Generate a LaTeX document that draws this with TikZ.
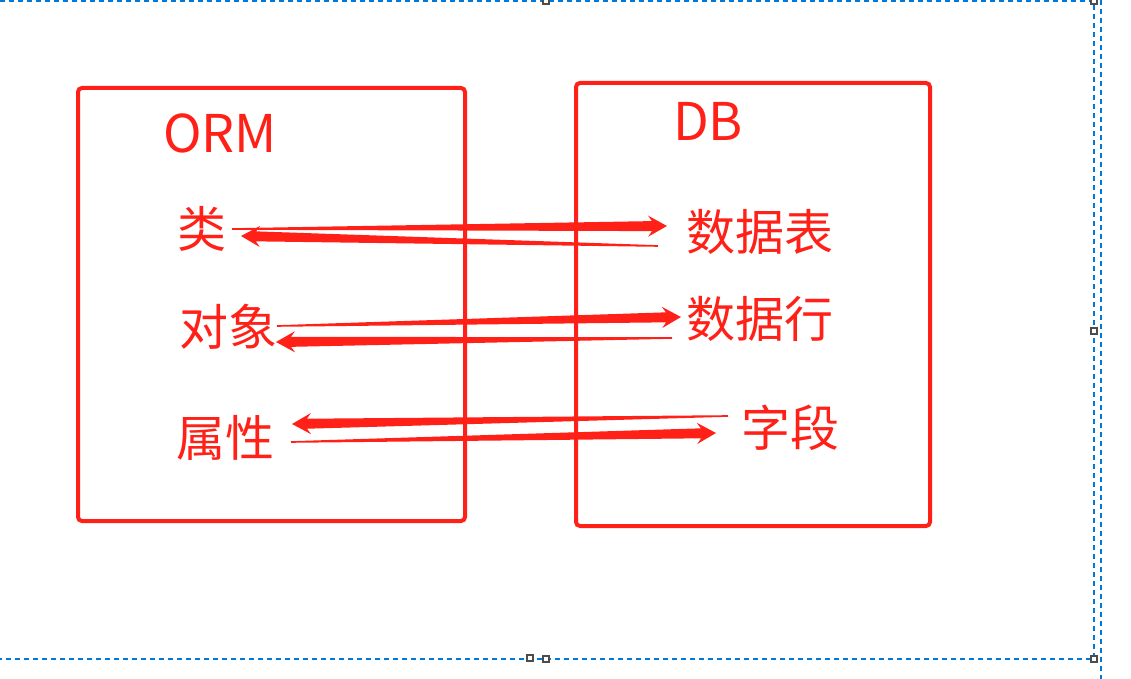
\documentclass[tikz,border=0pt]{standalone}
\usepackage{fontspec}
\usepackage{tikz}
\usetikzlibrary{calc}
\newfontfamily\cjk{Noto Sans CJK SC}
\definecolor{ormred}{RGB}{255,33,23}
\definecolor{selblue}{RGB}{0,120,215}
% tapered arrow: thin at #1, head at #2
\newcommand{\flow}[2]{\fill[ormred] ($(#1)!0.4pt!90:(#2)$) -- ($(#2)!7.5pt!(#1)!2.5pt!90:(#2)$) -- ($(#2)!9.5pt!(#1)!5.3pt!90:(#2)$) -- (#2) -- ($(#2)!9.5pt!(#1)!5.3pt!-90:(#2)$) -- ($(#2)!7.5pt!(#1)!2.5pt!-90:(#2)$) -- ($(#1)!0.4pt!-90:(#2)$) -- cycle;}

\begin{document}
\begin{tikzpicture}[x=0.5pt,y=-0.5pt,
  panel/.style={draw=ormred,line width=2pt,rounded corners=2pt,inner sep=0pt},
  term/.style={text=ormred,font=\cjk\fontsize{24.5pt}{28pt}\selectfont,inner sep=0pt},
  title/.style={text=ormred,font=\cjk\fontsize{26pt}{30pt}\selectfont,inner sep=0pt},
  sel/.style={draw=selblue,line width=0.75pt,dash pattern=on 2.5pt off 2pt},
  handle/.style={draw=black!70,fill=white,line width=0.6pt,minimum size=3pt,inner sep=0pt}]
\useasboundingbox (0,0) rectangle (1131,679);
% selection frame
\draw[sel] (0,1) -- (1094,1) -- (1094,659) -- (0,659);
\draw[sel] (1101,0) -- (1101,679);
\foreach \hx/\hy in {546/1,1094/1,1094/331,1094/659,546/659,530/658}
  \node[handle] at (\hx,\hy) {};
% the two panels
\node[panel,minimum width=193.5pt,minimum height=216.5pt] (orm) at (271.5,304.5) {};
\node[panel,minimum width=177pt,minimum height=221.5pt] (db) at (753,304.5) {};
\node[title] (ormt) at (220,133) {ORM};
\node[title] (dbt) at (708,121) {DB};
% terms
\node[term] (lei) at (202,229) {类};
\node[term] (duixiang) at (228,327) {对象};
\node[term] (shuxing) at (225,438) {属性};
\node[term] (biao) at (760,232) {数据表};
\node[term] (hang) at (760,319) {数据行};
\node[term] (ziduan) at (790,428) {字段};
% arrow ends
\coordinate (lei-o) at (232,229);
\coordinate (lei-i) at (241,236);
\coordinate (biao-i) at (667,226);
\coordinate (biao-o) at (658,246);
\coordinate (dx-o) at (277,326);
\coordinate (dx-i) at (276,342);
\coordinate (hang-i) at (681,317);
\coordinate (hang-o) at (672,338);
\coordinate (sx-i) at (292,424);
\coordinate (sx-o) at (291,442);
\coordinate (zd-o) at (728,416);
\coordinate (zd-i) at (716,433);
\flow{lei-o}{biao-i}
\flow{biao-o}{lei-i}
\flow{dx-o}{hang-i}
\flow{hang-o}{dx-i}
\flow{zd-o}{sx-i}
\flow{sx-o}{zd-i}
\end{tikzpicture}
\end{document}
